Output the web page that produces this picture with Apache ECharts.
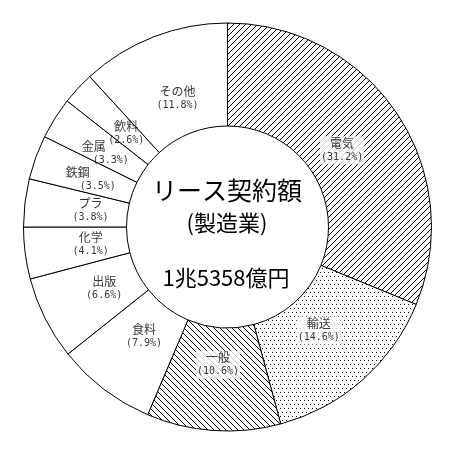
<!DOCTYPE html>
<html>
<head>
<meta charset="utf-8">
<script src="https://cdn.jsdelivr.net/npm/echarts@6/dist/echarts.min.js"></script>
<style>
  html, body { margin: 0; padding: 0; background: #fff; }
  #chart { width: 454px; height: 454px; }
</style>
</head>
<body>
<div id="chart"></div>
<script>
var names = ['電気', '輸送', '一般', '食料', '出版', '化学', 'プラ', '鉄鋼', '金属', '飲料', 'その他'];
var shares = [31.2, 14.6, 10.6, 7.9, 6.6, 4.1, 3.8, 3.5, 3.3, 2.6, 11.8];
var fills = ['slash', 'dots', 'backslash', 'none', 'none', 'none', 'none', 'none', 'none', 'none', 'none'];
var centerLines = ['リース契約額', '(製造業)', '1兆5358億円'];

var cx = 227.5, cy = 227;
var innerR = 101, outerR = 204, labelR = 138;
// in the crowded upper-left the name sits left of its percentage
var nameGap = { '鉄鋼': 'g40', '金属': 'g34' };

// small bitmap tiles for the hatch / dot fills
function makeTile(kind) {
    var c = document.createElement('canvas');
    var ctx = c.getContext('2d');
    if (kind == 'dots') {
        c.width = 4; c.height = 8;
        ctx.fillStyle = '#fff';
        ctx.fillRect(0, 0, 4, 8);
        ctx.fillStyle = '#000';
        ctx.fillRect(0, 0, 1, 1);
        ctx.fillRect(2, 4, 1, 1);
    } else {
        c.width = 6; c.height = 6;
        ctx.fillStyle = '#fff';
        ctx.fillRect(0, 0, 6, 6);
        ctx.fillStyle = '#000';
        for (var i = 0; i < 6; i++) {
            if (kind == 'slash') ctx.fillRect(i, 5 - i, 1, 1);
            else ctx.fillRect(i, i, 1, 1);
        }
    }
    return { image: c, repeat: 'repeat' };
}

var ringData = [];
var labelData = [];
var cum = 0;
for (var i = 0; i < names.length; i++) {
    var patterned = fills[i] != 'none';
    ringData.push({
        name: names[i],
        value: shares[i],
        itemStyle: { color: patterned ? makeTile(fills[i]) : '#fff' }
    });
    // label sits at the middle angle of its slice; clear the hatch behind it
    labelData.push({
        name: names[i],
        value: [labelR, cum + shares[i] / 2],
        share: shares[i],
        label: { backgroundColor: patterned ? '#fff' : 'transparent' }
    });
    cum += shares[i];
}

var myChart = echarts.init(document.getElementById('chart'));
var option = {
    backgroundColor: '#fff',
    animation: false,
    polar: { center: [cx, cy], radius: [0, outerR] },
    angleAxis: { type: 'value', min: 0, max: 100, startAngle: 90, clockwise: true, show: false },
    radiusAxis: { type: 'value', min: 0, max: outerR, show: false },
    graphic: [
        { type: 'text', x: 227, y: 190, style: { text: centerLines[0], font: '25px "Noto Sans CJK JP"', fill: '#000', textAlign: 'center', textVerticalAlign: 'middle' } },
        { type: 'text', x: 227, y: 223, style: { text: centerLines[1], font: '22px "Noto Sans CJK JP"', fill: '#000', textAlign: 'center', textVerticalAlign: 'middle' } },
        { type: 'text', x: 226, y: 278, style: { text: centerLines[2], font: '22px "Noto Sans CJK JP"', fill: '#000', textAlign: 'center', textVerticalAlign: 'middle' } }
    ],
    series: [{
            name: 'ring',
            type: 'pie',
            center: [cx, cy],
            radius: [innerR, outerR],
            startAngle: 90,
            clockwise: true,
            silent: true,
            label: { show: false },
            labelLine: { show: false },
            itemStyle: { borderColor: '#000', borderWidth: 1 },
            emphasis: { disabled: true },
            data: ringData
        },
        {
            name: 'labels',
            type: 'scatter',
            coordinateSystem: 'polar',
            symbolSize: 0,
            silent: true,
            z: 10,
            label: {
                show: true,
                position: 'inside',
                align: 'center',
                verticalAlign: 'middle',
                padding: [0, 1],
                formatter: function (p) {
                    var g = nameGap[p.name];
                    var nm = '{n|' + p.name + '}' + (g ? '{' + g + '| }' : '');
                    return nm + '\n{p|(' + p.data.share.toFixed(1) + '%)}';
                },
                rich: {
                    n: { fontFamily: 'Noto Sans CJK JP', fontSize: 12, color: '#000', lineHeight: 14, align: 'center' },
                    g34: { fontSize: 12, lineHeight: 14, width: 34, align: 'center' },
                    g40: { fontSize: 12, lineHeight: 14, width: 40, align: 'center' },
                    p: { fontFamily: 'DejaVu Sans Mono', fontSize: 10, color: '#000', lineHeight: 14, align: 'center' }
                }
            },
            emphasis: { disabled: true },
            data: labelData
        }
    ]
};
myChart.setOption(option);
</script>
</body>
</html>
